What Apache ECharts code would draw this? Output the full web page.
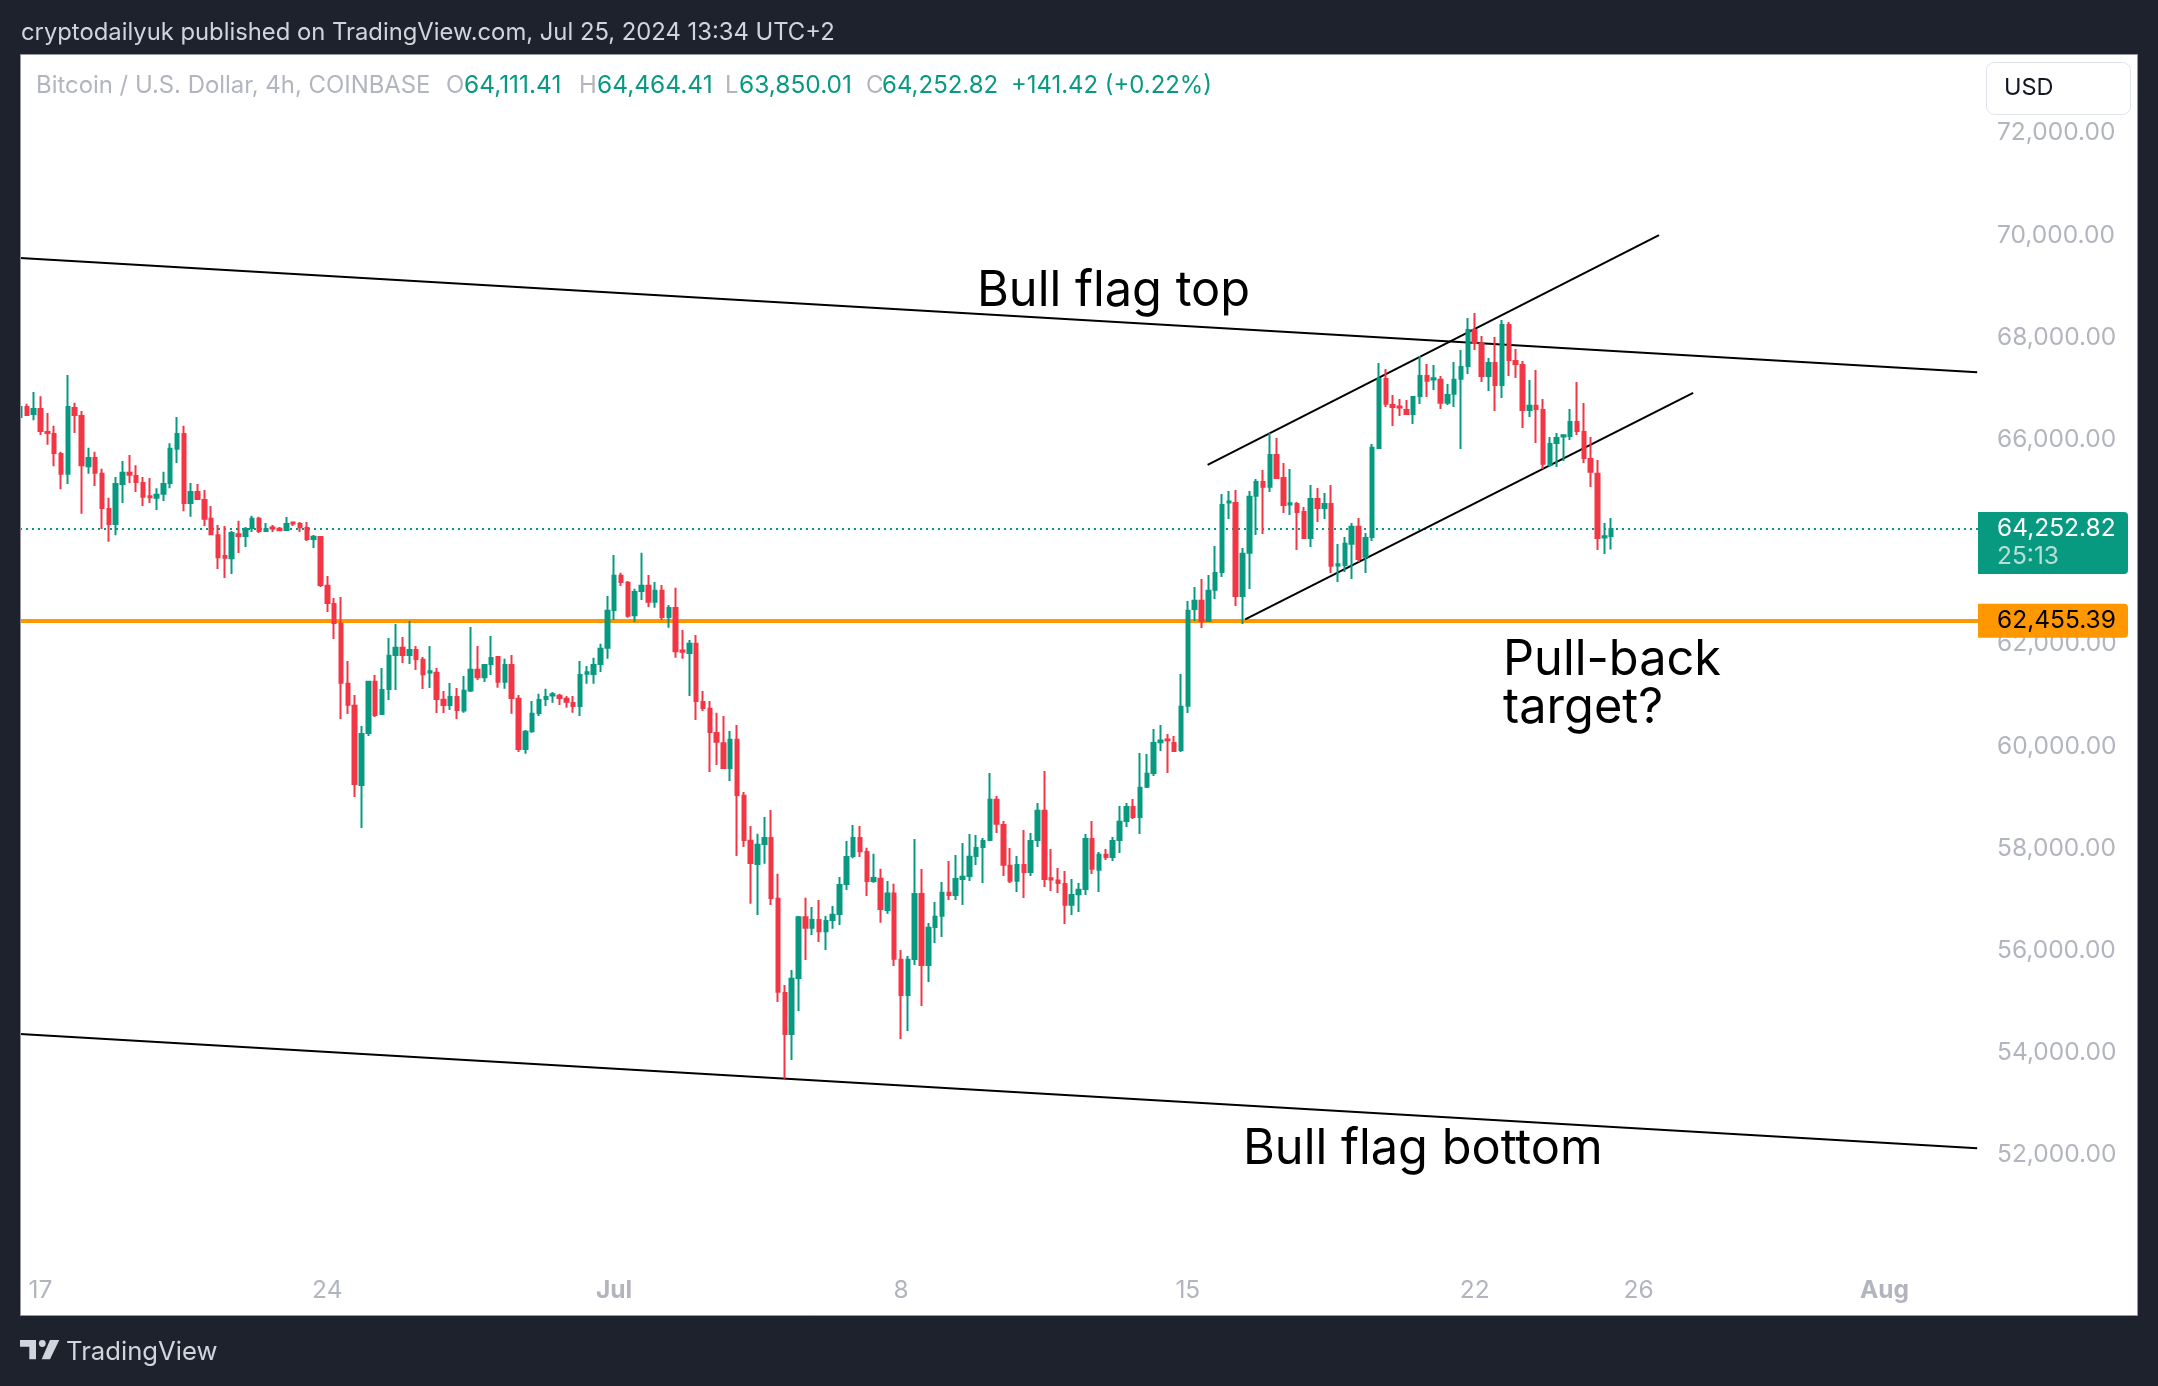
<!DOCTYPE html>
<html>
<head>
<meta charset="utf-8">
<title>BTCUSD 4h</title>
<script src="https://cdn.jsdelivr.net/npm/echarts@6/dist/echarts.min.js"></script>
<style>
html, body { margin: 0; padding: 0; background: #1e222d; }
#chart { width: 2158px; height: 1386px; }
</style>
</head>
<body>
<div id="chart"></div>
<script>
// ---------------------------candles, 4h bars----------------------------------------------------
var opens = [
	66440,66640,66500,66600,66150,66110,65720,65330,66620,66460,
	65480,65640,65330,64640,64350,65130,65350,65290,65150,64890,
	64860,64940,65150,65820,66110,64760,64975,64820,64450,64130,
	63720,63680,64150,64115,64270,64450,64210,64280,64255,64230,
	64380,64350,64270,64055,64095,63140,62785,62395,61220,60790,
	59240,60260,61260,60630,61120,61785,61925,61785,61885,61690,
	61440,61435,60910,60805,60965,60700,61090,61495,61350,61610,
	61745,61260,61590,60930,59945,60295,60650,60925,60990,60985,
	60930,60845,60785,61420,61415,61610,61925,62665,63335,63200,
	62565,63035,63140,62825,63040,62530,62705,61875,61825,62005,
	60865,60735,60260,60060,59575,60125,59030,58150,57695,58085,
	58205,57015,55170,54370,55465,56655,56445,56600,56380,56600,
	56715,57305,57850,58205,57930,57360,57405,56795,57115,55820,
	55130,55835,57110,55720,56460,56680,57130,57090,57400,57460,
	57850,58025,58165,58950,58460,57660,57365,57675,57540,58165,
	58735,57415,57370,57305,56895,57105,57205,58185,57580,57875,
	57830,58165,58535,58810,58615,59205,59475,60075,60130,60065,
	59925,60790,62685,62845,62450,63060,63410,64770,64760,62940,
	63785,64900,65170,65075,65700,65250,64730,64740,64585,64075,
	64840,64660,64740,63535,63545,63960,64295,63705,64095,65835,
	67185,66675,66650,66580,66500,66855,67245,67175,67170,66720,
	66895,67190,67440,68145,67875,67245,67500,67070,68245,67540,
	67460,66580,66660,66580,65505,65935,66060,66070,66345,66150,
	65620,65330,64085,64111.41
];
var highs = [
	66756,66700,66930,66850,66520,66270,65760,67265,66720,66560,
	65840,65760,65430,64860,65270,65580,65700,65500,65270,65250,
	65050,65370,65930,66440,66270,65150,65130,65015,64700,64330,
	64310,64210,64410,64290,64510,64490,64370,64330,64290,64486,
	64388,64388,64388,64134,64114,63332,62901,62921,61668,61003,
	60396,61277,61394,61531,62118,62392,62138,62451,61962,61747,
	61962,61531,61081,61238,61140,61374,62331,61961,61611,62157,
	61765,61709,61786,61003,60318,60885,61024,61122,61059,61024,
	60982,60982,61667,61569,61730,62003,62939,63743,63394,63233,
	63079,63785,63352,63212,63156,62765,63100,62275,62080,62178,
	61080,60885,60654,60591,60298,60416,59102,58438,58285,58613,
	58753,57502,55328,55622,56677,57034,56852,56992,56677,56873,
	57439,58145,58459,58438,58012,57893,57600,57362,57306,56013,
	55895,58185,57598,56541,56952,57344,57755,57872,58107,58283,
	58263,58205,59477,59026,58537,58009,57852,58361,58302,58890,
	59516,57989,57617,57559,57402,57324,58283,58537,57931,57989,
	58224,58831,58890,58968,59868,59848,60338,60416,60240,60201,
	61414,62843,63117,63273,63352,63919,64937,64996,65015,63880,
	64996,65230,65407,66131,66033,65544,65426,64780,64682,65113,
	65054,64956,65113,63958,64095,64369,64467,64174,65915,67500,
	67382,66874,66795,66776,66854,67637,67481,67461,67246,67089,
	67520,67755,68381,68479,68029,67598,68009,68342,68302,67774,
	67539,67168,67363,66796,66052,66130,66091,66600,67128,66717,
	66052,65602,64369,64464.41
];
var lows = [
	66424,66460,66380,66090,65900,65480,65030,65130,66130,64550,
	65330,65090,64250,64000,64130,64760,65150,64975,64700,64760,
	64620,64800,65050,65540,64600,64490,64820,64310,64134,63470,
	63290,63370,63780,63900,64190,64170,64190,64190,64212,64212,
	64310,64190,64017,63880,63116,62627,62099,60533,60631,59007,
	58400,60201,60572,60612,60905,61101,61629,61609,61492,61120,
	61140,60651,60651,60709,60533,60654,61059,61297,61255,61395,
	61143,61122,60633,59885,59850,60263,60591,60787,60850,60808,
	60752,60654,60591,61220,61220,61451,61709,62471,63135,62513,
	62429,62862,62723,62709,62471,62317,61730,61709,60982,60514,
	60689,59494,59634,59557,59319,57851,58026,56915,56698,57698,
	56894,54993,53490,53861,54818,55818,56307,56167,56013,56426,
	56503,57187,57809,57830,57069,57327,56544,56719,55699,54271,
	54428,55719,54917,55386,56150,56267,56991,56991,56893,57363,
	57676,57324,58146,58303,57461,57324,57148,57030,57461,58028,
	57246,57167,57128,56521,56698,56756,57089,57500,57148,57774,
	57754,57911,58420,58576,58283,59183,59418,59907,59477,59887,
	59887,60651,62452,62315,62432,62882,63313,64448,62745,62393,
	63078,64135,64154,64976,65230,64565,64526,63841,64056,63900,
	64389,64448,63391,63215,63410,63273,63606,63391,64017,65817,
	66639,66267,66463,66483,66306,66698,66835,66972,66600,66678,
	66639,65817,67285,67755,67128,66952,66561,66815,67246,67207,
	66228,66443,65935,65426,65465,65465,65582,65993,66091,65543,
	65074,63841,63762,63850.01
];
var closes = [
	66640,66480,66600,66170,66130,65740,65330,66640,66480,65500,
	65640,65350,64660,64350,65130,65350,65310,65170,64880,64870,
	64920,65130,65820,66110,64760,64975,64840,64450,64150,63700,
	63690,64170,64115,64250,64450,64210,64250,64260,64225,64350,
	64360,64285,64055,64100,63155,62800,62410,61240,60810,59260,
	60240,61260,60610,61100,61770,61925,61785,61885,61705,61410,
	61465,60925,60805,60965,60710,61085,61495,61350,61590,61725,
	61260,61590,60945,59945,60285,60635,60905,60965,61015,60945,
	60870,60785,61395,61445,61590,61905,62650,63335,63215,62555,
	63020,63140,62825,63040,62530,62705,61860,61850,62005,60885,
	60750,60280,60085,59575,60125,59045,58165,57715,58070,58205,
	57030,55195,54370,55450,56655,56445,56600,56380,56580,56700,
	57285,57830,58205,57945,57360,57420,56815,57115,55840,55130,
	55820,57110,55720,56445,56660,57130,57090,57400,57445,57835,
	58010,58145,58950,58480,57680,57365,57675,57540,58145,58735,
	57400,57390,57325,56895,57090,57190,58185,57600,57875,57830,
	58145,58520,58810,58615,59185,59460,60065,60110,60115,59905,
	60770,62650,62845,62450,63040,63390,64720,64790,62940,63765,
	64880,65170,65075,65700,65250,64720,64755,64585,64075,64840,
	64660,64740,63530,63560,63960,64295,63665,64075,65840,67185,
	66700,66640,66630,66500,66835,67245,67150,67200,66720,66875,
	67170,67420,68145,67890,67245,67500,67070,68245,67560,67480,
	66580,66660,66600,65525,65915,66030,66085,66345,66170,65640,
	65370,64075,64110,64252.82
];

// time axis: bar slots that carry a label, plus empty future slots up to the chart edge
var slotCount = 288;
var timeLabels = ['17', '24', 'Jul', '8', '15', '22', '26', 'Aug'];
var timeSlots = [3, 45, 87, 129, 171, 213, 237, 273];
var monthLabels = ['Jul', 'Aug'];

// drawn trend lines, [bar slot, price]
var flagTop = [[0, 69555], [286.6, 67320]];
var flagBottom = [[0, 54369], [286.6, 52132]];
var channelUpper = [[173.9, 65504], [240.0, 70000]];
var channelLower = [[179.4, 62484], [245.0, 66913]];

var lastPrice = 64252.82;
var targetPrice = 62455.39;
var countdown = '25:13';

var priceMin = 52000;
var priceMax = 72000;
var priceStep = 2000;

var legendOhlc = ['64,111.41', '64,464.41', '63,850.01', '64,252.82'];
var legendChange = '+141.42 (+0.22%)';

var UP = '#089981';
var DOWN = '#f23645';
var FONT = 'Inter';
var AXIS_SIZE = 24.5;
var NOTE_SIZE = 48.7;

function money(v) {
	return v.toLocaleString('en-US', { minimumFractionDigits : 2, maximumFractionDigits : 2 });
}

var candles = opens.map(function(o, i) {
	return [ o, closes[i], lows[i], highs[i] ];
});

var categories = [];
for (var s = 0; s < slotCount; s++) {
	var at = timeSlots.indexOf(s);
	categories.push(at >= 0 ? timeLabels[at] : '');
}

function trendLine(points) {
	return {
		type : 'line',
		xAxisIndex : 1,
		data : points,
		showSymbol : false,
		silent : true,
		z : 1,
		lineStyle : { color : '#000000', width : 2 }
	};
}

function text(x, y, str, size, color) {
	return { type : 'text', z : 3, style : { x : x, y : y, text : str, fill : color, font : size + 'px ' + FONT, textVerticalAlign : 'middle' } };
}

var chart = echarts.init(document.getElementById('chart'));
chart.setOption({
	animation : false,
	backgroundColor : '#1e222d',
	textStyle : { fontFamily : FONT },
	grid : { left : 20, top : 133, width : 1960, height : 1022 },
	xAxis : [ {
		type : 'category',
		boundaryGap : false,
		data : categories,
		axisLine : { show : false },
		axisTick : { show : false },
		splitLine : { show : false },
		axisLabel : {
			interval : function(i, v) { return v !== ''; },
			hideOverlap : false,
			margin : 123,
			fontSize : AXIS_SIZE,
			color : '#b2b5be',
			formatter : function(v) {
				return monthLabels.indexOf(v) >= 0 ? '{m|' + v + '}' : v;
			},
			rich : { m : { fontSize : AXIS_SIZE, fontWeight : 700, color : '#b2b5be' } }
		}
	}, {
		type : 'value',
		show : false,
		min : 0,
		max : slotCount - 1
	} ],
	yAxis : {
		type : 'value',
		position : 'right',
		min : priceMin,
		max : priceMax,
		interval : priceStep,
		axisLine : { show : false },
		axisTick : { show : false },
		splitLine : { show : false },
		axisLabel : {
			margin : 17,
			fontSize : AXIS_SIZE,
			color : '#b2b5be',
			formatter : money
		}
	},
	series : [ {
		type : 'candlestick',
		data : candles,
		barWidth : 4,
		z : 2,
		itemStyle : {
			color : UP,
			color0 : DOWN,
			borderColor : UP,
			borderColor0 : DOWN,
			borderWidth : 2
		},
		markLine : {
			silent : true,
			symbol : 'none',
			z : 1,
			animation : false,
			data : [ {
				yAxis : lastPrice,
				lineStyle : { color : UP, width : 2, type : [ 2, 4 ] },
				label : {
					position : 'end',
					distance : 0,
					offset : [ -2, 14 ],
					formatter : '{p|' + money(lastPrice) + '}\n{t|' + countdown + '}',
					backgroundColor : UP,
					borderRadius : [ 0, 4, 4, 0 ],
					padding : [ 3, 11, 3, 19 ],
					rich : {
						p : { color : '#ffffff', fontSize : AXIS_SIZE, lineHeight : 28, width : 120 },
						t : { color : '#b5e0d5', fontSize : AXIS_SIZE, lineHeight : 28, width : 120 }
					}
				}
			}, {
				yAxis : targetPrice,
				lineStyle : { color : '#ff9800', width : 4, type : 'solid' },
				label : {
					position : 'end',
					distance : 0,
					offset : [ -2, 0 ],
					formatter : money(targetPrice),
					color : '#000000',
					fontSize : AXIS_SIZE,
					lineHeight : 24,
					width : 120,
					backgroundColor : '#ff9800',
					borderRadius : [ 0, 4, 4, 0 ],
					padding : [ 5, 11, 5, 19 ]
				}
			} ]
		}
	}, trendLine(flagTop), trendLine(flagBottom), trendLine(channelUpper), trendLine(channelLower) ],
	graphic : [
		// white chart panel behind everything
		{ type : 'rect', z : -1, shape : { x : 20.5, y : 54.5, width : 2117, height : 1261 },
			style : { fill : '#ffffff', stroke : '#9598a1', lineWidth : 1 } },
		// the first candle is cut by the panel edge
		{ type : 'rect', z : 3, shape : { x : 0, y : 55, width : 20, height : 1260 }, style : { fill : '#1e222d' } },
		{ type : 'rect', z : 3, shape : { x : 20, y : 55, width : 1, height : 1260 }, style : { fill : '#9598a1' } },
		// header
		text(21, 33, 'cryptodailyuk published on TradingView.com, Jul 25, 2024 13:34 UTC+2', 23.8, '#d1d4dc'),
		// legend
		text(36, 86, 'Bitcoin / U.S. Dollar, 4h, COINBASE', 23.9, '#b2b5be'),
		text(446, 86, 'O', 23.9, '#b2b5be'), text(464, 86, legendOhlc[0], 24.5, UP),
		text(579, 86, 'H', 23.9, '#b2b5be'), text(597, 86, legendOhlc[1], 24.5, UP),
		text(725, 86, 'L', 23.9, '#b2b5be'), text(739, 86, legendOhlc[2], 24.5, UP),
		text(866, 86, 'C', 23.9, '#b2b5be'), text(882, 86, legendOhlc[3], 24, UP),
		text(1011, 86, legendChange, 23.9, UP),
		// currency button
		{ type : 'rect', z : 3, shape : { x : 1986.5, y : 62.5, width : 144, height : 52, r : 8 },
			style : { fill : '#ffffff', stroke : '#e0e3eb', lineWidth : 1 } },
		text(2004, 88, 'USD', 23.5, '#131722'),
		// annotations
		text(977, 291, 'Bull flag top', NOTE_SIZE, '#000000'),
		text(1243, 1149, 'Bull flag bottom', NOTE_SIZE, '#000000'),
		text(1503, 660, 'Pull-back', NOTE_SIZE, '#000000'),
		text(1503, 708, 'target?', NOTE_SIZE, '#000000'),
		// footer logo and name
		{ type : 'polygon', z : 3, shape : { points : [ [20, 1340], [36, 1340], [36, 1359.3], [29.3, 1359.3], [29.3, 1346.7], [20, 1346.7] ] }, style : { fill : '#d1d4dc' } },
		{ type : 'circle', z : 3, shape : { cx : 42.3, cy : 1343.5, r : 3.4 }, style : { fill : '#d1d4dc' } },
		{ type : 'polygon', z : 3, shape : { points : [ [50, 1340], [59.3, 1340], [50, 1359.3], [41.7, 1359.3] ] }, style : { fill : '#d1d4dc' } },
		text(66, 1352, 'TradingView', 25.7, '#d1d4dc')
	]
});
</script>
</body>
</html>
